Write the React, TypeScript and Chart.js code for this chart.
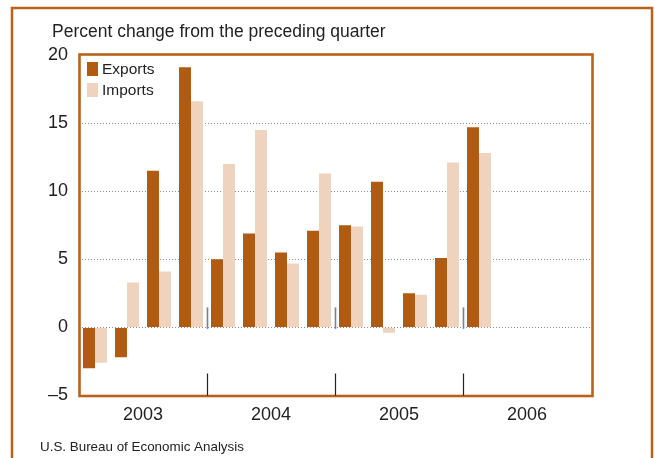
import React, { useEffect, useRef } from "react";
import { Chart, registerables } from "chart.js";

Chart.register(...registerables);

const quarters = [
  "2003 Q1", "2003 Q2", "2003 Q3", "2003 Q4",
  "2004 Q1", "2004 Q2", "2004 Q3", "2004 Q4",
  "2005 Q1", "2005 Q2", "2005 Q3", "2005 Q4",
  "2006 Q1", "2006 Q2", "2006 Q3", "2006 Q4",
];
const years = ["2003", "2004", "2005", "2006"];
const exportsPct = [-3.0, -2.2, 11.5, 19.1, 5.0, 6.9, 5.5, 7.1, 7.5, 10.7, 2.5, 5.1, 14.7];
const importsPct = [-2.6, 3.3, 4.1, 16.6, 12.0, 14.5, 4.7, 11.3, 7.4, -0.4, 2.4, 12.1, 12.8];
const yTicks = [-5, 0, 5, 10, 15, 20];

const title = "Percent change from the preceding quarter";
const source = "U.S. Bureau of Economic Analysis";
const seriesNames = ["Exports", "Imports"];

const EXPORT_COLOR = "#B15B12";
const IMPORT_COLOR = "#EED4BE";
const FRAME_COLOR = "#B8621C";
const TEXT_COLOR = "#222222";
const FONT = "'Liberation Sans', Arial, Helvetica, sans-serif";

const decorations = {
  id: "decorations",
  afterDraw(chart: any) {
    const ctx = chart.ctx;
    const area = chart.chartArea;
    const xs = chart.scales.x;
    const ys = chart.scales.y;
    ctx.save();

    // outer frame (left, top, right)
    ctx.strokeStyle = FRAME_COLOR;
    ctx.lineWidth = 2.5;
    ctx.beginPath();
    ctx.moveTo(12, 470);
    ctx.lineTo(12, 8);
    ctx.lineTo(652, 8);
    ctx.lineTo(652, 470);
    ctx.stroke();

    // inner plot frame
    ctx.lineWidth = 2.6;
    ctx.strokeStyle = FRAME_COLOR;
    ctx.strokeRect(area.left + 0.5, area.top - 0.5, area.right - area.left + 1, area.bottom - area.top + 1);

    // title
    ctx.fillStyle = TEXT_COLOR;
    ctx.font = `17.5px ${FONT}`;
    ctx.textAlign = "left";
    ctx.textBaseline = "alphabetic";
    ctx.fillText(title, 52, 37);

    // source
    ctx.font = `13.4px ${FONT}`;
    ctx.textBaseline = "middle";
    ctx.fillText(source, 40, 447);

    // year separators & labels
    const n = quarters.length;
    const slot = (area.right - area.left) / n;
    const y0 = ys.getPixelForValue(0);
    ctx.textAlign = "center";
    ctx.font = `18px ${FONT}`;
    for (let i = 0; i < years.length; i++) {
      const first = xs.getPixelForValue(i * 4);
      const last = xs.getPixelForValue(i * 4 + 3);
      ctx.fillStyle = TEXT_COLOR;
      ctx.fillText(years[i], (first + last) / 2, 415);
      if (i > 0) {
        const bx = Math.round(first - slot / 2) + 0.5;
        ctx.strokeStyle = "#222";
        ctx.lineWidth = 1.2;
        ctx.beginPath();
        ctx.moveTo(bx, area.bottom - 22);
        ctx.lineTo(bx, area.bottom);
        ctx.stroke();
        ctx.strokeStyle = "#808080";
        ctx.lineWidth = 1.6;
        ctx.beginPath();
        ctx.moveTo(bx, y0 - 20);
        ctx.lineTo(bx, y0 + 1.5);
        ctx.stroke();
      }
    }

    // legend
    const colors = [EXPORT_COLOR, IMPORT_COLOR];
    ctx.textAlign = "left";
    ctx.font = `15.5px ${FONT}`;
    for (let i = 0; i < seriesNames.length; i++) {
      const top = area.top + 7 + i * 21;
      ctx.fillStyle = colors[i];
      ctx.fillRect(area.left + 8, top, 11, 14);
      ctx.fillStyle = TEXT_COLOR;
      ctx.fillText(seriesNames[i], area.left + 23, top + 7.5);
    }
    ctx.restore();
  },
};

export default function App() {
  const ref = useRef<HTMLCanvasElement>(null);
  useEffect(() => {
    if (!ref.current) return;
    const chart = new Chart(ref.current, {
      type: "bar",
      data: {
        labels: quarters,
        datasets: [
          { label: seriesNames[0], data: exportsPct, backgroundColor: EXPORT_COLOR, borderWidth: 0 },
          { label: seriesNames[1], data: importsPct, backgroundColor: IMPORT_COLOR, borderWidth: 0 },
        ],
      },
      options: {
        responsive: false,
        animation: false,
        devicePixelRatio: 1,
        layout: { padding: { left: 11, right: 64, top: 55, bottom: 62.5 } },
        datasets: { bar: { categoryPercentage: 0.75, barPercentage: 1.0 } },
        plugins: { legend: { display: false }, tooltip: { enabled: false }, title: { display: false } },
        scales: {
          x: { display: false, offset: true, grid: { display: false } },
          y: {
            min: -5,
            max: 20,
            z: 1,
            afterFit: (scale: any) => { scale.width = 68; },
            afterBuildTicks: (scale: any) => { scale.ticks = yTicks.map((v) => ({ value: v })); },
            border: { display: false, dash: [1, 2] },
            grid: {
              drawTicks: false,
              lineWidth: 1,
              color: (c: any) => (c.tick && (c.tick.value === 20 || c.tick.value === -5) ? "rgba(0,0,0,0)" : "#8c8c8c"),
            },
            ticks: {
              padding: 11,
              color: TEXT_COLOR,
              font: { family: FONT, size: 18 },
              callback: (v: any) => (Number(v) < 0 ? "\u2013" + Math.abs(Number(v)) : String(v)),
            },
          },
        },
      },
      plugins: [decorations],
    });
    return () => chart.destroy();
  }, []);
  return (
    <div style={{ position: "absolute", left: 0, top: 0, width: 655, height: 458, background: "#fff" }}>
      <canvas ref={ref} width={655} height={458} style={{ display: "block" }} />
    </div>
  );
}
